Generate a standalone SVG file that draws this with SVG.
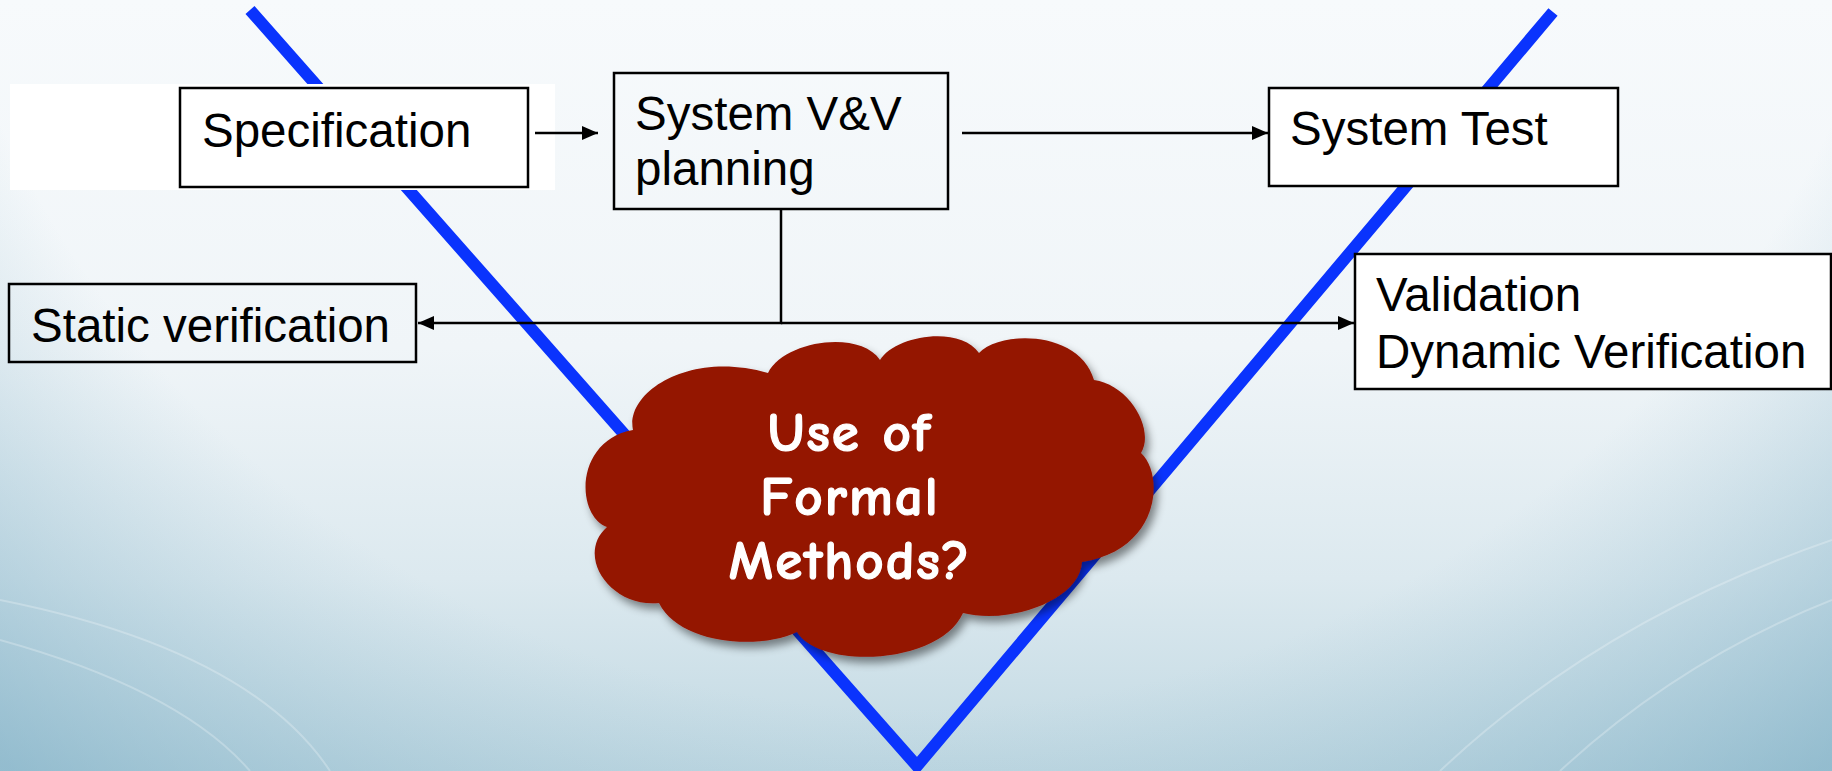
<svg xmlns="http://www.w3.org/2000/svg" width="1832" height="771" viewBox="0 0 1832 771">
<style>
.box{stroke:#000;stroke-width:2.5}
.lbl{font-family:"Liberation Sans",Arial,Helvetica,sans-serif;font-size:47.5px;fill:#000}
.conn{fill:none;stroke:#000;stroke-width:2.5}
.cl{font-family:"Comic Sans MS","Comic Neue","Open Sans",sans-serif;font-weight:900;font-size:55px;fill:#fff;stroke:#fff;stroke-width:1.2px;text-anchor:middle;letter-spacing:2px}
</style>
<defs>
<linearGradient id="bg" x1="0" y1="0" x2="0" y2="1">
<stop offset="0" stop-color="#f7fafc"/>
<stop offset="0.45" stop-color="#f0f5f8"/>
<stop offset="0.75" stop-color="#dce9ef"/>
<stop offset="1" stop-color="#c0d8e2"/>
</linearGradient>
<radialGradient id="vig" cx="916" cy="-300" r="1400" gradientUnits="userSpaceOnUse">
<stop offset="0.72" stop-color="#7fb0c6" stop-opacity="0"/>
<stop offset="1" stop-color="#6fa6bf" stop-opacity="0.55"/>
</radialGradient>
<marker id="ah" markerWidth="16" markerHeight="14" refX="16" refY="7" orient="auto" markerUnits="userSpaceOnUse">
<path d="M0,0 L16,7 L0,14 z" fill="#000"/>
</marker>
<filter id="sh" x="-10%" y="-10%" width="130%" height="130%">
<feDropShadow dx="4" dy="6" stdDeviation="4" flood-color="#000" flood-opacity="0.45"/>
</filter>
</defs>
<rect width="1832" height="771" fill="url(#bg)"/>
<rect width="1832" height="771" fill="url(#vig)"/>
<g fill="none" stroke="#ffffff" stroke-opacity="0.25" stroke-width="2">
<path d="M0,600 Q250,650 330,771"/>
<path d="M0,640 Q180,690 250,771"/>
<path d="M1832,540 Q1600,620 1440,771"/>
<path d="M1832,600 Q1680,660 1560,771"/>
</g>
<g id="vshape">
<polyline points="250,10 917,766 1553,12" fill="none" stroke="#0a33fd" stroke-width="12" stroke-linejoin="miter"/>
</g>
<rect x="10" y="84" width="545" height="106" fill="#ffffff"/>
<g id="specification">
<rect class="box" x="180" y="88" width="348" height="99" fill="#fff"/>
<text class="lbl" x="202" y="147">Specification</text>
</g>
<g id="vv-planning">
<rect class="box" x="614" y="73" width="334" height="136" fill="none"/>
<text class="lbl" x="635" y="130">System V&amp;V</text>
<text class="lbl" x="635" y="185">planning</text>
</g>
<g id="system-test">
<rect class="box" x="1269" y="88" width="349" height="98" fill="#fff"/>
<text class="lbl" x="1290" y="145">System Test</text>
</g>
<g id="static-verification">
<rect class="box" x="9" y="284" width="407" height="78" fill="none"/>
<text class="lbl" x="31" y="342">Static verification</text>
</g>
<g id="validation">
<rect class="box" x="1355" y="254" width="476" height="135" fill="#fff"/>
<text class="lbl" x="1376" y="311">Validation</text>
<text class="lbl" x="1376" y="368">Dynamic Verification</text>
</g>
<g id="connectors">
<path class="conn" d="M535,133 L598,133" marker-end="url(#ah)"/>
<path class="conn" d="M962,133 L1268,133" marker-end="url(#ah)"/>
<path class="conn" d="M781,209 L781,323 L418,323" marker-end="url(#ah)"/>
<path class="conn" d="M781,323 L1354,323" marker-end="url(#ah)"/>
</g>
<g id="cloud">
<path filter="url(#sh)" fill="#941400" d="M633,430 C625,392 690,350 768,373 C785,340 860,330 880,360 C895,335 960,325 979,353 C1000,330 1080,330 1094,380 C1130,385 1155,430 1141,453 C1165,475 1160,550 1082,562 C1080,600 1010,625 963,613 C940,665 820,670 797,632 C760,650 680,645 659,603 C610,608 575,555 607,527 C575,515 575,440 633,430 Z"/>
<text class="cl" x="850" y="451">Use of</text>
<text class="cl" x="850" y="515">Formal</text>
<text class="cl" x="850" y="579">Methods?</text>
</g>
</svg>
